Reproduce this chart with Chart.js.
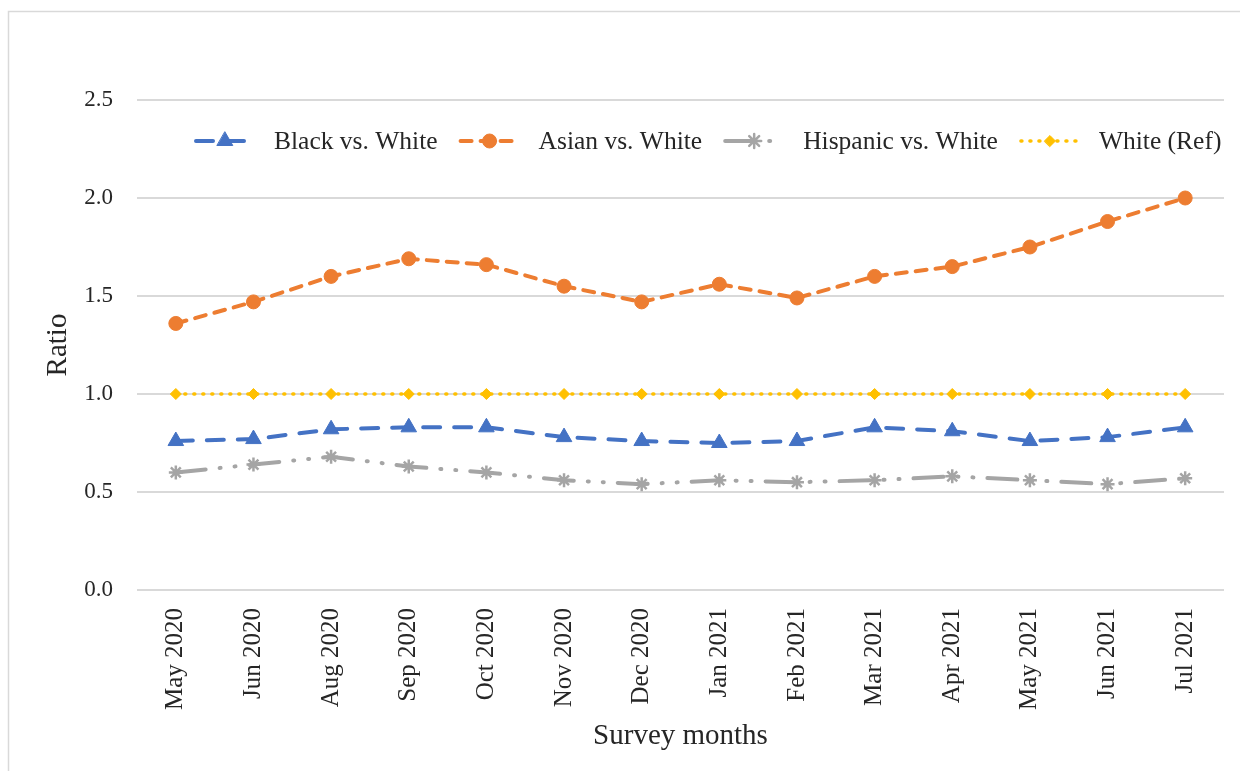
<!DOCTYPE html>
<html>
<head>
<meta charset="utf-8">
<title>Ratio by survey month</title>
<script src="https://cdn.jsdelivr.net/npm/chart.js@4/dist/chart.umd.min.js"></script>
<style>
  html, body { margin: 0; padding: 0; background: #fff; }
  #chart { display: block; }
</style>
</head>
<body>
<canvas id="chart" width="1240" height="771"></canvas>
<script>
const months = ["May 2020", "Jun 2020", "Aug 2020", "Sep 2020", "Oct 2020", "Nov 2020", "Dec 2020",
  "Jan 2021", "Feb 2021", "Mar 2021", "Apr 2021", "May 2021", "Jun 2021", "Jul 2021"];
const blackVsWhite = [0.76, 0.77, 0.82, 0.83, 0.83, 0.78, 0.76, 0.75, 0.76, 0.83, 0.81, 0.76, 0.78, 0.83];
const asianVsWhite = [1.36, 1.47, 1.60, 1.69, 1.66, 1.55, 1.47, 1.56, 1.49, 1.60, 1.65, 1.75, 1.88, 2.00];
const hispanicVsWhite = [0.60, 0.64, 0.68, 0.63, 0.60, 0.56, 0.54, 0.56, 0.55, 0.56, 0.58, 0.56, 0.54, 0.57];
const whiteRef = [1.0, 1.0, 1.0, 1.0, 1.0, 1.0, 1.0, 1.0, 1.0, 1.0, 1.0, 1.0, 1.0, 1.0];
const yTicks = [0, 0.5, 1.0, 1.5, 2.0, 2.5];

const FONT = "'Liberation Serif', 'Times New Roman', serif";

// white page with the light frame line on top and left
const frame = {
  id: "frame",
  beforeDraw(chart) {
    const ctx = chart.ctx;
    ctx.save();
    ctx.fillStyle = "#fff";
    ctx.fillRect(0, 0, chart.width, chart.height);
    ctx.strokeStyle = "#d9d9d9";
    ctx.lineWidth = 1.5;
    ctx.strokeRect(8.5, 11.5, chart.width + 20, chart.height + 20);
    ctx.restore();
  }
};

// legend drawn inside the plot: line sample with marker, then the label
const innerLegend = {
  id: "innerLegend",
  afterDraw(chart) {
    const ctx = chart.ctx;
    const y = 141;
    let x = 196;
    ctx.save();
    ctx.font = "25.5px " + FONT;
    ctx.textBaseline = "middle";
    chart.data.datasets.forEach((ds) => {
      const lineLen = 58;
      ctx.save();
      ctx.strokeStyle = ds.borderColor;
      ctx.lineWidth = ds.borderWidth;
      ctx.lineCap = "round";
      ctx.setLineDash(ds.borderDash || []);
      ctx.beginPath();
      ctx.moveTo(x, y);
      ctx.lineTo(x + lineLen, y);
      ctx.stroke();
      ctx.setLineDash([]);
      ctx.fillStyle = ds.pointBackgroundColor;
      ctx.strokeStyle = ds.pointBorderColor;
      ctx.lineWidth = ds.pointBorderWidth;
      Chart.helpers.drawPoint(ctx, {
        pointStyle: ds.pointStyle,
        radius: ds.pointRadius,
        borderWidth: ds.pointBorderWidth,
        rotation: 0
      }, x + lineLen / 2, y);
      ctx.restore();
      ctx.fillStyle = "#262626";
      ctx.textAlign = "left";
      const tx = x + lineLen + 20;
      ctx.fillText(ds.label, tx, y + 1);
      x = tx + ctx.measureText(ds.label).width + 23;
    });
    ctx.restore();
  }
};

function series(label, data, color, dash, width, style, radius, pbw) {
  return {
    label: label,
    data: data,
    borderColor: color,
    backgroundColor: color,
    borderWidth: width,
    borderDash: dash,
    borderCapStyle: "round",
    pointStyle: style,
    pointRadius: radius,
    pointHoverRadius: radius,
    pointBackgroundColor: color,
    pointBorderColor: color,
    pointBorderWidth: pbw,
    tension: 0,
    fill: false
  };
}

new Chart(document.getElementById("chart"), {
  type: "line",
  data: {
    labels: months,
    datasets: [
      series("Black vs. White", blackVsWhite, "#4472C4", [17, 14], 4, "triangle", 9, 1),
      series("Asian vs. White", asianVsWhite, "#ED7D31", [11, 9], 4, "circle", 7, 1),
      series("Hispanic vs. White", hispanicVsWhite, "#A5A5A5", [30, 14, 1, 14, 1, 14], 4, "star", 7, 2.5),
      series("White (Ref)", whiteRef, "#FFC000", [1, 8], 3.5, "rectRot", 5.5, 1)
    ]
  },
  options: {
    responsive: false,
    animation: false,
    layout: { padding: { top: 100, right: 16, left: 0, bottom: 0 } },
    plugins: {
      legend: { display: false },
      tooltip: { enabled: false }
    },
    scales: {
      x: {
        offset: true,
        grid: { display: false },
        border: { display: false },
        ticks: {
          color: "#262626",
          font: { family: FONT, size: 25 },
          minRotation: 90,
          maxRotation: 90,
          padding: 10
        },
        title: {
          display: true,
          text: "Survey months",
          color: "#262626",
          font: { family: FONT, size: 29 },
          padding: { top: 17, bottom: 17 }
        },
        afterFit(scale) { scale.height = 181; }
      },
      y: {
        min: 0,
        max: 2.5,
        grid: { color: "#d9d9d9", lineWidth: 2, drawTicks: false },
        border: { display: false },
        afterBuildTicks(scale) { scale.ticks = yTicks.map((v) => ({ value: v })); },
        ticks: {
          color: "#262626",
          font: { family: FONT, size: 23 },
          padding: 24,
          callback: (v) => Number(v).toFixed(1)
        },
        title: {
          display: true,
          text: "Ratio",
          color: "#262626",
          font: { family: FONT, size: 29 },
          padding: { top: 41, bottom: 41 }
        },
        afterFit(scale) { scale.width = 137; }
      }
    }
  },
  plugins: [frame, innerLegend]
});
</script>
</body>
</html>
